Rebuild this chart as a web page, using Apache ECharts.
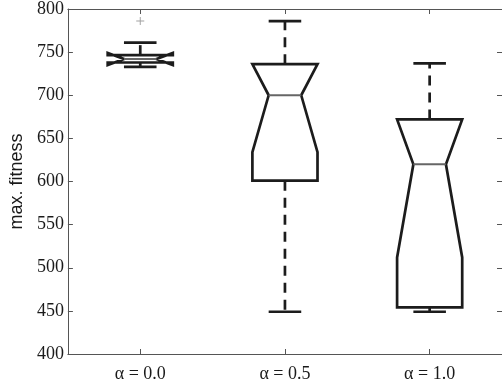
<!DOCTYPE html>
<html>
<head>
<meta charset="utf-8">
<script src="https://cdn.jsdelivr.net/npm/echarts@6/dist/echarts.min.js"></script>
<style>
html,body{margin:0;padding:0;background:#fff;}
#chart{width:502px;height:383px;}
</style>
</head>
<body>
<div id="chart"></div>
<script>
// ---- data ----
const categories  = ['α = 0.0', 'α = 0.5', 'α = 1.0'];
const whiskerLow  = [733, 449, 449];
const q1          = [738, 601, 454];
const notchLow    = [735, 634, 512];
const median      = [742, 700, 620];
const notchHigh   = [749, 736, 672];
const q3          = [746.5, 736, 672];
const whiskerHigh = [761, 786, 737];
const outlierCategory = ['α = 0.0'];
const outlierValue    = [786];
const yTicks = { min: 400, max: 800, interval: 50 };
const yName = 'max. fitness';

// ---- build ----
const boxData = categories.map((c, i) => [i, whiskerLow[i], q1[i], notchLow[i], median[i], notchHigh[i], q3[i], whiskerHigh[i]]);
const outlierData = outlierCategory.map((c, i) => [categories.indexOf(c), outlierValue[i]]);

const LINE = '#1c1c1c';
const AXIS = '#555';

function renderBox(params, api) {
  const ci = api.value(0);
  const x = api.coord([ci, 0])[0];
  const Y = v => api.coord([ci, v])[1];
  const band = api.size([1, 0])[0];
  const half = band * 0.225;
  const notch = half * 0.5;
  const cap = half * 0.5;
  const yWL = Y(api.value(1)), yQ1 = Y(api.value(2)), yNL = Y(api.value(3)),
        yMed = Y(api.value(4)), yNH = Y(api.value(5)), yQ3 = Y(api.value(6)), yWH = Y(api.value(7));
  const L = x - half, R = x + half;
  const stroke = { stroke: LINE, lineWidth: 2.7, fill: null };
  const dashed = { stroke: LINE, lineWidth: 2.7, lineDash: [10, 7] };
  return {
    type: 'group',
    children: [
      { type: 'line', shape: { x1: x, y1: yQ3, x2: x, y2: yWH }, style: dashed },
      { type: 'line', shape: { x1: x, y1: yQ1, x2: x, y2: yWL }, style: dashed },
      { type: 'line', shape: { x1: x - cap, y1: yWH, x2: x + cap, y2: yWH }, style: { stroke: LINE, lineWidth: 2.7 } },
      { type: 'line', shape: { x1: x - cap, y1: yWL, x2: x + cap, y2: yWL }, style: { stroke: LINE, lineWidth: 2.7 } },
      { type: 'polygon', shape: { points: [
          [L, yQ1], [L, yNL], [L + notch, yMed], [L, yNH], [L, yQ3],
          [R, yQ3], [R, yNH], [R - notch, yMed], [R, yNL], [R, yQ1]
        ] }, style: Object.assign({ lineJoin: 'miter' }, stroke) },
      { type: 'line', shape: { x1: L + notch, y1: yMed, x2: R - notch, y2: yMed }, style: { stroke: '#666', lineWidth: 2 } }
    ]
  };
}

const chart = echarts.init(document.getElementById('chart'), null, { renderer: 'canvas' });
const serif = '"Liberation Serif", "Times New Roman", serif';
const sans = '"Liberation Sans", Arial, sans-serif';
const catAxisCommon = {
  type: 'category',
  data: categories,
  axisLine: { show: true, onZero: false, lineStyle: { color: AXIS, width: 1 } },
  axisTick: { show: true, inside: true, alignWithLabel: true, length: 5, lineStyle: { color: AXIS } },
  splitLine: { show: false }
};
const valAxisCommon = {
  type: 'value',
  min: yTicks.min, max: yTicks.max, interval: yTicks.interval,
  axisLine: { show: true, onZero: false, lineStyle: { color: AXIS, width: 1 } },
  axisTick: { show: true, inside: true, length: 5, lineStyle: { color: AXIS } },
  splitLine: { show: false }
};
chart.setOption({
  animation: false,
  backgroundColor: '#fff',
  grid: { left: 67, top: 8, width: 439.5, height: 346, containLabel: false },
  xAxis: [
    Object.assign({}, catAxisCommon, { position: 'bottom',
      axisLabel: { show: true, margin: 11, color: '#1a1a1a', fontFamily: serif, fontSize: 18 } }),
    Object.assign({}, catAxisCommon, { position: 'top', axisLabel: { show: false } })
  ],
  yAxis: [
    Object.assign({}, valAxisCommon, { position: 'left',
      name: yName, nameLocation: 'middle', nameGap: 39, nameRotate: 90,
      nameTextStyle: { fontFamily: sans, fontSize: 18, color: '#1a1a1a' },
      axisLabel: { show: true, margin: 4, color: '#1a1a1a', fontFamily: serif, fontSize: 18 } }),
    Object.assign({}, valAxisCommon, { position: 'right', axisLabel: { show: false } })
  ],
  series: [
    {
      type: 'custom',
      renderItem: renderBox,
      encode: { x: 0, y: [1, 2, 3, 4, 5, 6, 7] },
      data: boxData,
      clip: false
    },
    {
      type: 'scatter',
      data: outlierData,
      symbol: 'path://M4.4,0h1.2v10h-1.2z M0,4.4h10v1.2h-10z',
      symbolSize: 8,
      itemStyle: { color: '#8a8a8a' }
    }
  ]
});
</script>
</body>
</html>
